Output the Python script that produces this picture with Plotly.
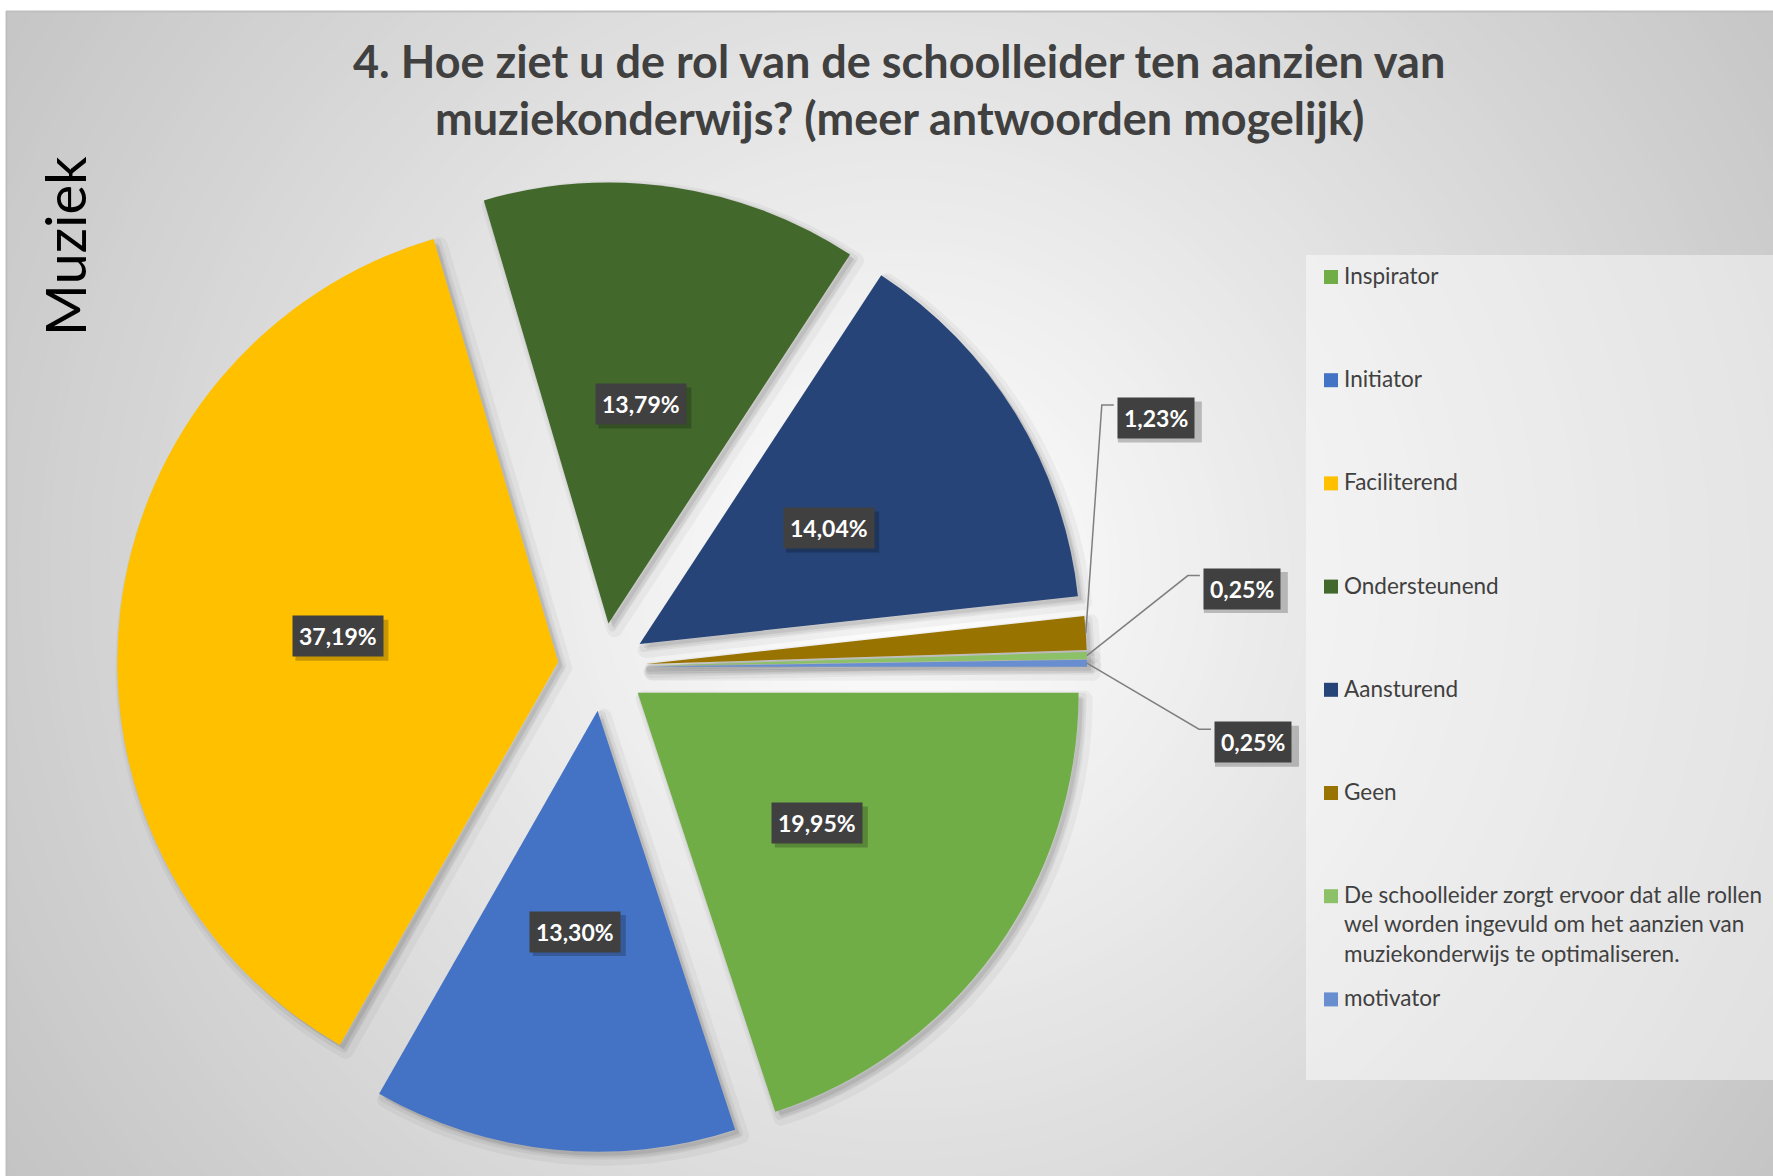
import math
import plotly.graph_objects as go

# ---------------- data ----------------
labels = [
    "Inspirator",
    "Initiator",
    "Faciliterend",
    "Ondersteunend",
    "Aansturend",
    "Geen",
    "De schoolleider zorgt ervoor dat alle rollen wel worden ingevuld om het aanzien van muziekonderwijs te optimaliseren.",
    "motivator",
]
legend_lines = [
    "Inspirator",
    "Initiator",
    "Faciliterend",
    "Ondersteunend",
    "Aansturend",
    "Geen",
    "De schoolleider zorgt ervoor dat alle rollen<br>wel worden ingevuld om het aanzien van<br>muziekonderwijs te optimaliseren.",
    "motivator",
]
values = [19.95, 13.30, 37.19, 13.79, 14.04, 1.23, 0.25, 0.25]
colors = ["#70AD47", "#4472C4", "#FFC000", "#43682B", "#264478", "#997300", "#8CC168", "#698ED0"]
title_lines = [
    "4. Hoe ziet u de rol van de schoolleider ten aanzien van",
    "muziekonderwijs? (meer antwoorden mogelijk)",
]
side_title = "Muziek"

# ---------------- style / layout ----------------
W, H = 1773, 1176
CX, CY = 602, 667          # pie centre (px)
HALF = 485                 # half size of pie domain (px)
PULL = 0.10
R = HALF / (1 + PULL)
FONT = "Lato"
TXT = "#404040"


def px(x):
    return x / W


def py(y):
    return 1 - y / H


def fmt(v):
    return f"{v:.2f}".replace(".", ",") + "%"


fig = go.Figure()

# soft shadow pies
for sh, a_fill, a_line, lw in [(6, 0.05, 0.04, 16), (4, 0.08, 0.05, 8)]:
    fig.add_trace(go.Pie(
        labels=labels, values=values, sort=False, direction="clockwise", rotation=90,
        pull=[PULL] * len(values),
        marker=dict(colors=[f"rgba(0,0,0,{a_fill})"] * len(values),
                    line=dict(color=f"rgba(0,0,0,{a_line})", width=lw)),
        textinfo="none", hoverinfo="skip", showlegend=False,
        domain=dict(x=[px(CX - HALF + sh), px(CX + HALF + sh)], y=[py(CY + HALF + sh), py(CY - HALF + sh)]),
    ))

fig.add_trace(go.Pie(
    labels=labels, values=values, sort=False, direction="clockwise", rotation=90,
    pull=[PULL] * len(values),
    marker=dict(colors=colors, line=dict(width=0)),
    textinfo="none", hoverinfo="label+percent", showlegend=False,
    domain=dict(x=[px(CX - HALF), px(CX + HALF)], y=[py(CY + HALF), py(CY - HALF)]),
))

shapes = []
annotations = []

# background radial gradient
GX, GY = 900, 570
RMAX = 1080
for rr in range(1150, 0, -10):
    t = min(1.0, rr / RMAX)
    c = int(round(255 - 59 * t))
    shapes.append(dict(type="circle", xref="paper", yref="paper", xsizemode="pixel", ysizemode="pixel",
                       xanchor=px(GX), yanchor=py(GY), x0=-rr, x1=rr, y0=-rr, y1=rr,
                       fillcolor=f"rgb({c},{c},{c})", line=dict(width=0), layer="below"))
# white outer strips + border
shapes.append(dict(type="rect", xref="paper", yref="paper", x0=0, x1=1, y0=py(11), y1=1,
                   fillcolor="white", line=dict(width=0), layer="below"))
shapes.append(dict(type="rect", xref="paper", yref="paper", x0=0, x1=px(6), y0=0, y1=1,
                   fillcolor="white", line=dict(width=0), layer="below"))
shapes.append(dict(type="line", xref="paper", yref="paper", x0=px(6), x1=1, y0=py(11.5), y1=py(11.5),
                   line=dict(color="#bfbfbf", width=2), layer="below"))
shapes.append(dict(type="line", xref="paper", yref="paper", x0=px(6.5), x1=px(6.5), y0=0, y1=py(11),
                   line=dict(color="#bfbfbf", width=2), layer="below"))

# legend box
LX0, LY0, LY1 = 1306, 255, 1080
shapes.append(dict(type="rect", xref="paper", yref="paper", x0=px(LX0), x1=1, y0=py(LY1), y1=py(LY0),
                   fillcolor="rgba(255,255,255,0.45)", line=dict(width=0), layer="below"))

# legend items (manual)
LEG_TOP, LEG_STEP, MK = 277, 103.2, 14
for i, (txt, col) in enumerate(zip(legend_lines, colors)):
    yc = LEG_TOP + i * LEG_STEP
    shapes.append(dict(type="rect", xref="paper", yref="paper", x0=px(1324), x1=px(1324 + MK),
                       y0=py(yc + MK / 2), y1=py(yc - MK / 2), fillcolor=col, line=dict(width=0)))
    annotations.append(dict(x=px(1342), y=py(yc - 17), xref="paper", yref="paper", text=txt,
                            showarrow=False, xanchor="left", yanchor="top", align="left",
                            font=dict(family=FONT, size=22.5, color=TXT)))

# data labels
total = sum(values)
cum = 0.0
out_offsets = [(70, -215), (155, -67), (166, 79)]
k_out = 0
BOXH = 41
for v in values:
    mid = (cum + v / 2) / total
    cum += v
    th = 2 * math.pi * mid
    lab = fmt(v)
    boxw = 9 * len(lab) + 39
    if v >= 5:
        d = 0.603 * R
        lx, ly = CX + d * math.cos(th), CY + d * math.sin(th)
    else:
        ex = CX + R * (1 + PULL) * math.cos(th)
        ey = CY + R * (1 + PULL) * math.sin(th)
        dx, dy = out_offsets[k_out]
        k_out += 1
        lx, ly = ex + dx, ey + dy
        bx = lx - boxw / 2
        elx, ely = bx - 12, ly - 13
        path = f"M {px(ex)},{py(ey)} L {px(elx)},{py(ely)} L {px(bx)},{py(ely)}"
        shapes.append(dict(type="path", xref="paper", yref="paper", path=path,
                           line=dict(color="#7f7f7f", width=1.5)))
    # shadow box
    shapes.append(dict(type="rect", xref="paper", yref="paper", xsizemode="pixel", ysizemode="pixel",
                       xanchor=px(lx), yanchor=py(ly),
                       x0=-boxw / 2 + 4, x1=boxw / 2 + 4, y0=-BOXH / 2 - 4, y1=BOXH / 2 - 4,
                       fillcolor="rgba(0,0,0,0.22)", line=dict(width=0)))
    annotations.append(dict(x=px(lx), y=py(ly), xref="paper", yref="paper", text=f"<b>{lab}</b>",
                            showarrow=False, bgcolor="#404040", borderpad=6,
                            xanchor="center", yanchor="middle",
                            font=dict(family=FONT, size=23, color="white")))

# titles
for t, yc in zip(title_lines, [61, 118]):
    annotations.append(dict(x=px(899), y=py(yc), xref="paper", yref="paper", text=f"<b>{t}</b>",
                            showarrow=False, xanchor="center", yanchor="middle",
                            font=dict(family=FONT, size=45, color=TXT)))
annotations.append(dict(x=px(65), y=py(246), xref="paper", yref="paper", text=side_title,
                        showarrow=False, textangle=-90, xanchor="center", yanchor="middle",
                        font=dict(family=FONT, size=56, color="black")))

fig.update_layout(
    width=W, height=H, autosize=False,
    margin=dict(l=0, r=0, t=0, b=0),
    paper_bgcolor="white", plot_bgcolor="white",
    shapes=shapes, annotations=annotations, showlegend=False,
)

fig.write_html("out.html", config={"displayModeBar": False},
               post_script="document.body.style.margin='0';")
